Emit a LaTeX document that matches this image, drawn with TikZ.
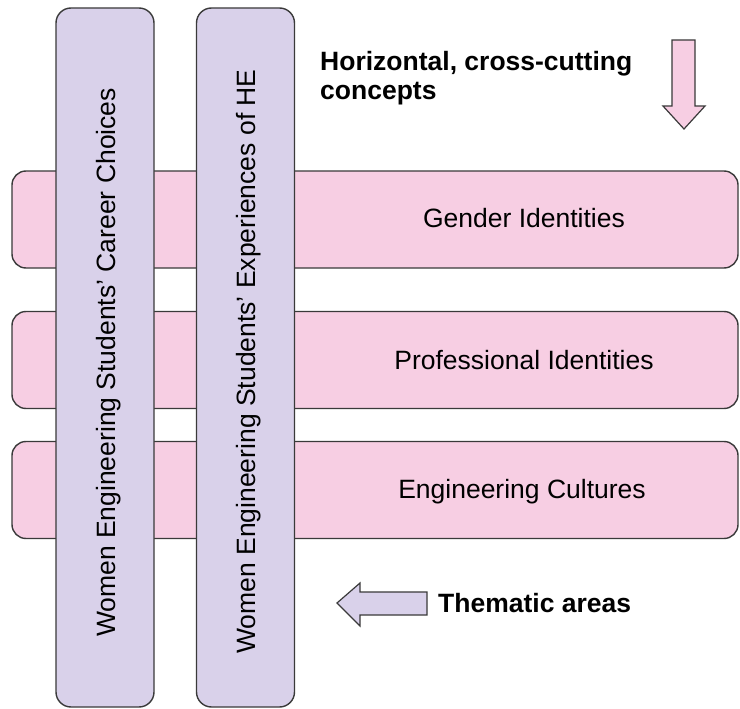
\documentclass[tikz,border=0pt]{standalone}
\usepackage{fontspec}
\setmainfont{Liberation Sans}
\definecolor{themepink}{HTML}{F7CEE3}
\definecolor{themelav}{HTML}{D9D1EA}
\definecolor{edgegray}{HTML}{3A3A3A}
\begin{document}
\begin{tikzpicture}[x=1pt,y=-1pt,
  bigtext/.style={font=\fontsize{26.5}{30}\selectfont, inner sep=0pt},
  boldtext/.style={font=\fontsize{26.5}{30}\selectfont\bfseries, inner sep=0pt},
  hbar/.style={draw=edgegray, line width=1.4pt, fill=themepink,
    rounded corners=14pt, minimum width=726pt, minimum height=97pt, inner sep=0pt},
  vbar/.style={draw=edgegray, line width=1.4pt, fill=themelav,
    rounded corners=15pt, minimum width=98pt, minimum height=699pt, inner sep=0pt},
  pinkarrow/.style={draw=edgegray, line width=1.2pt, fill=themepink},
  lavarrow/.style={draw=edgegray, line width=1.2pt, fill=themelav}]
\useasboundingbox (0,0) rectangle (740,709);
\fill[white] (0,0) rectangle (740,709);

% horizontal cross-cutting concepts
\node[hbar] (gender) at (375,219.5) {};
\node[hbar] (prof)   at (375,360) {};
\node[hbar] (cult)   at (375,490) {};
\node[bigtext, anchor=base] (genderlbl) at (524,227) {Gender Identities};
\node[bigtext, anchor=base] (proflbl)   at (524,369) {Professional Identities};
\node[bigtext, anchor=base] (cultlbl)   at (522,498) {Engineering Cultures};

% vertical thematic areas
\node[vbar] (career) at (105,357.5) {};
\node[vbar] (experience) at (245.5,357.5) {};
\node[bigtext, rotate=90, anchor=base] (careerlbl) at (115,362.5)
  {Women Engineering Students’ Career Choices};
\node[bigtext, rotate=90, anchor=base] (experiencelbl) at (255,361.5)
  {Women Engineering Students’ Experiences of HE};

% legend (base anchor of a two-line node sits on its last line)
\node[boldtext, anchor=base west, align=left] (concepts) at (320,100)
  {Horizontal, cross-cutting\\concepts};
\draw[pinkarrow] (672,40) -- (695,40) -- (695,106) -- (705,106) -- (684,129)
  -- (663,106) -- (672,106) -- cycle;

\node[boldtext, anchor=base west] (themes) at (438,612) {Thematic areas};
\draw[lavarrow] (427,592) -- (427,615) -- (360,615) -- (360,626) -- (337,603)
  -- (360,583) -- (360,592) -- cycle;
\end{tikzpicture}
\end{document}
